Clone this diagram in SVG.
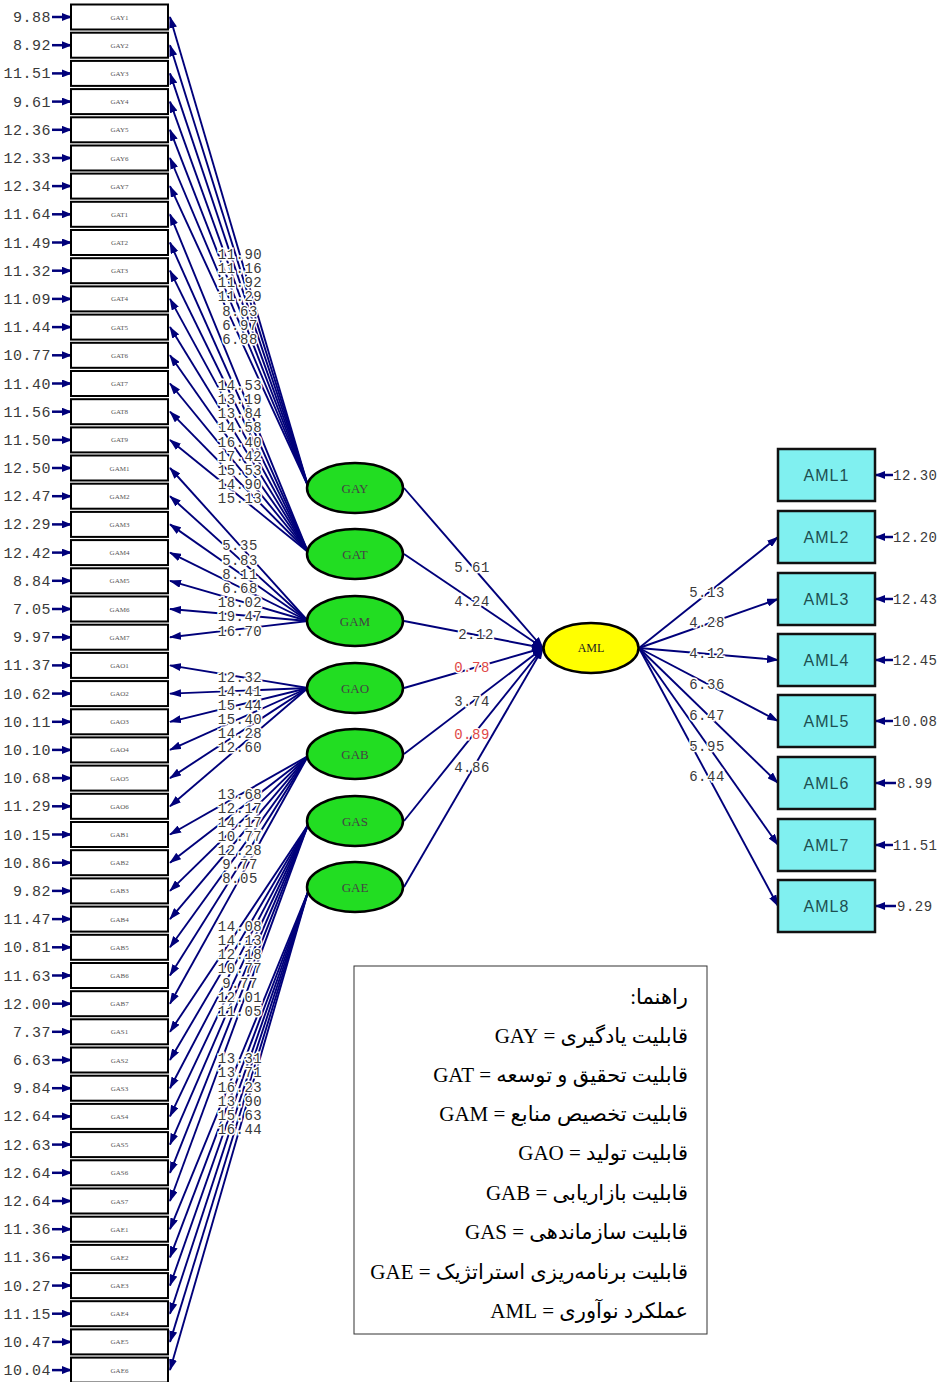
<svg xmlns="http://www.w3.org/2000/svg" width="943" height="1382" viewBox="0 0 943 1382">
<style>
.ln{stroke:#00007a;stroke-width:1.9;fill:none;marker-end:url(#ah)}
.er{stroke:#00007a;stroke-width:2.5;fill:none;marker-end:url(#ahs)}
.ind rect{fill:#fff;stroke:#000;stroke-width:2}
.ind text{font-family:"Liberation Serif",serif;font-size:7px;fill:#555;text-anchor:middle}
.num{font-family:"Liberation Mono","DejaVu Sans Mono",monospace;font-size:14px;fill:#3a3a3a;letter-spacing:0.5px}
.lab{text-anchor:middle;paint-order:stroke;stroke:#fff;stroke-width:3px}
.red{fill:#e04848}
.errl{font-size:15px;text-anchor:end}
.lat ellipse{fill:#22dd22;stroke:#000;stroke-width:2.5}
.lat text{font-family:"Liberation Serif",serif;font-size:13px;fill:#444;text-anchor:middle}
.aml rect{fill:#80f0f0;stroke:#111;stroke-width:2.5}
.aml text{font-family:"Liberation Sans",sans-serif;font-size:16px;fill:#1d4f50;text-anchor:middle;letter-spacing:1px}
.leg{font-family:"Liberation Serif","DejaVu Sans",serif;font-size:21px;fill:#000}
</style>
<defs>
<marker id="ah" markerWidth="12" markerHeight="8" refX="11" refY="4" orient="auto" markerUnits="userSpaceOnUse"><path d="M0,0 L12,4 L0,8 z" fill="#00007a"/></marker>
<marker id="ahs" markerWidth="10" markerHeight="8" refX="9" refY="4" orient="auto" markerUnits="userSpaceOnUse"><path d="M0,0 L10,4 L0,8 z" fill="#00007a"/></marker>
</defs>
<rect width="943" height="1382" fill="#fff"/>
<g id="connectors">
<path class="ln" d="M308,486 L170,17"/>
<path class="ln" d="M308,486 L170,45.2"/>
<path class="ln" d="M308,486 L170,73.4"/>
<path class="ln" d="M308,486 L170,101.6"/>
<path class="ln" d="M308,486 L170,129.8"/>
<path class="ln" d="M308,486 L170,158"/>
<path class="ln" d="M308,486 L170,186.1"/>
<path class="ln" d="M308,552 L170,214.3"/>
<path class="ln" d="M308,552 L170,242.5"/>
<path class="ln" d="M308,552 L170,270.7"/>
<path class="ln" d="M308,552 L170,298.9"/>
<path class="ln" d="M308,552 L170,327.1"/>
<path class="ln" d="M308,552 L170,355.3"/>
<path class="ln" d="M308,552 L170,383.5"/>
<path class="ln" d="M308,552 L170,411.7"/>
<path class="ln" d="M308,552 L170,439.9"/>
<path class="ln" d="M308,621 L170,468"/>
<path class="ln" d="M308,621 L170,496.2"/>
<path class="ln" d="M308,621 L170,524.4"/>
<path class="ln" d="M308,621 L170,552.6"/>
<path class="ln" d="M308,621 L170,580.8"/>
<path class="ln" d="M308,621 L170,609"/>
<path class="ln" d="M308,621 L170,637.2"/>
<path class="ln" d="M308,688 L170,665.4"/>
<path class="ln" d="M308,688 L170,693.6"/>
<path class="ln" d="M308,688 L170,721.8"/>
<path class="ln" d="M308,688 L170,749.9"/>
<path class="ln" d="M308,688 L170,778.1"/>
<path class="ln" d="M308,688 L170,806.3"/>
<path class="ln" d="M308,756 L170,834.5"/>
<path class="ln" d="M308,756 L170,862.7"/>
<path class="ln" d="M308,756 L170,890.9"/>
<path class="ln" d="M308,756 L170,919.1"/>
<path class="ln" d="M308,756 L170,947.3"/>
<path class="ln" d="M308,756 L170,975.5"/>
<path class="ln" d="M308,756 L170,1003.7"/>
<path class="ln" d="M308,825 L170,1031.8"/>
<path class="ln" d="M308,825 L170,1060"/>
<path class="ln" d="M308,825 L170,1088.2"/>
<path class="ln" d="M308,825 L170,1116.4"/>
<path class="ln" d="M308,825 L170,1144.6"/>
<path class="ln" d="M308,825 L170,1172.8"/>
<path class="ln" d="M308,825 L170,1201"/>
<path class="ln" d="M308,892 L170,1229.2"/>
<path class="ln" d="M308,892 L170,1257.4"/>
<path class="ln" d="M308,892 L170,1285.6"/>
<path class="ln" d="M308,892 L170,1313.7"/>
<path class="ln" d="M308,892 L170,1341.9"/>
<path class="ln" d="M308,892 L170,1370.1"/>
<path class="ln" d="M404,488 L543,648"/>
<path class="ln" d="M404,554 L543,648"/>
<path class="ln" d="M404,621 L543,648"/>
<path class="ln" d="M404,688 L543,648"/>
<path class="ln" d="M404,754 L543,648"/>
<path class="ln" d="M404,821 L543,648"/>
<path class="ln" d="M404,887 L543,648"/>
<path class="ln" d="M639,648 L778,537"/>
<path class="ln" d="M639,648 L778,599"/>
<path class="ln" d="M639,648 L778,660"/>
<path class="ln" d="M639,648 L778,721"/>
<path class="ln" d="M639,648 L778,783"/>
<path class="ln" d="M639,648 L778,845"/>
<path class="ln" d="M639,648 L778,906"/>
<path class="er" d="M52,17 L71,17"/>
<path class="er" d="M52,45.2 L71,45.2"/>
<path class="er" d="M52,73.4 L71,73.4"/>
<path class="er" d="M52,101.6 L71,101.6"/>
<path class="er" d="M52,129.8 L71,129.8"/>
<path class="er" d="M52,158 L71,158"/>
<path class="er" d="M52,186.1 L71,186.1"/>
<path class="er" d="M52,214.3 L71,214.3"/>
<path class="er" d="M52,242.5 L71,242.5"/>
<path class="er" d="M52,270.7 L71,270.7"/>
<path class="er" d="M52,298.9 L71,298.9"/>
<path class="er" d="M52,327.1 L71,327.1"/>
<path class="er" d="M52,355.3 L71,355.3"/>
<path class="er" d="M52,383.5 L71,383.5"/>
<path class="er" d="M52,411.7 L71,411.7"/>
<path class="er" d="M52,439.9 L71,439.9"/>
<path class="er" d="M52,468 L71,468"/>
<path class="er" d="M52,496.2 L71,496.2"/>
<path class="er" d="M52,524.4 L71,524.4"/>
<path class="er" d="M52,552.6 L71,552.6"/>
<path class="er" d="M52,580.8 L71,580.8"/>
<path class="er" d="M52,609 L71,609"/>
<path class="er" d="M52,637.2 L71,637.2"/>
<path class="er" d="M52,665.4 L71,665.4"/>
<path class="er" d="M52,693.6 L71,693.6"/>
<path class="er" d="M52,721.8 L71,721.8"/>
<path class="er" d="M52,749.9 L71,749.9"/>
<path class="er" d="M52,778.1 L71,778.1"/>
<path class="er" d="M52,806.3 L71,806.3"/>
<path class="er" d="M52,834.5 L71,834.5"/>
<path class="er" d="M52,862.7 L71,862.7"/>
<path class="er" d="M52,890.9 L71,890.9"/>
<path class="er" d="M52,919.1 L71,919.1"/>
<path class="er" d="M52,947.3 L71,947.3"/>
<path class="er" d="M52,975.5 L71,975.5"/>
<path class="er" d="M52,1003.7 L71,1003.7"/>
<path class="er" d="M52,1031.8 L71,1031.8"/>
<path class="er" d="M52,1060 L71,1060"/>
<path class="er" d="M52,1088.2 L71,1088.2"/>
<path class="er" d="M52,1116.4 L71,1116.4"/>
<path class="er" d="M52,1144.6 L71,1144.6"/>
<path class="er" d="M52,1172.8 L71,1172.8"/>
<path class="er" d="M52,1201 L71,1201"/>
<path class="er" d="M52,1229.2 L71,1229.2"/>
<path class="er" d="M52,1257.4 L71,1257.4"/>
<path class="er" d="M52,1285.6 L71,1285.6"/>
<path class="er" d="M52,1313.7 L71,1313.7"/>
<path class="er" d="M52,1341.9 L71,1341.9"/>
<path class="er" d="M52,1370.1 L71,1370.1"/>
<path class="er" d="M893,475 L876,475"/>
<path class="er" d="M893,537 L876,537"/>
<path class="er" d="M893,599 L876,599"/>
<path class="er" d="M893,660 L876,660"/>
<path class="er" d="M893,721 L876,721"/>
<path class="er" d="M896,783 L876,783"/>
<path class="er" d="M893,845 L876,845"/>
<path class="er" d="M896,906 L876,906"/>
</g>
<g id="labels" class="num">
<g class="errl">
<text x="51" y="22">9.88</text>
<text x="51" y="50.2">8.92</text>
<text x="51" y="78.4">11.51</text>
<text x="51" y="106.6">9.61</text>
<text x="51" y="134.8">12.36</text>
<text x="51" y="163">12.33</text>
<text x="51" y="191.1">12.34</text>
<text x="51" y="219.3">11.64</text>
<text x="51" y="247.5">11.49</text>
<text x="51" y="275.7">11.32</text>
<text x="51" y="303.9">11.09</text>
<text x="51" y="332.1">11.44</text>
<text x="51" y="360.3">10.77</text>
<text x="51" y="388.5">11.40</text>
<text x="51" y="416.7">11.56</text>
<text x="51" y="444.9">11.50</text>
<text x="51" y="473">12.50</text>
<text x="51" y="501.2">12.47</text>
<text x="51" y="529.4">12.29</text>
<text x="51" y="557.6">12.42</text>
<text x="51" y="585.8">8.84</text>
<text x="51" y="614">7.05</text>
<text x="51" y="642.2">9.97</text>
<text x="51" y="670.4">11.37</text>
<text x="51" y="698.6">10.62</text>
<text x="51" y="726.8">10.11</text>
<text x="51" y="754.9">10.10</text>
<text x="51" y="783.1">10.68</text>
<text x="51" y="811.3">11.29</text>
<text x="51" y="839.5">10.15</text>
<text x="51" y="867.7">10.86</text>
<text x="51" y="895.9">9.82</text>
<text x="51" y="924.1">11.47</text>
<text x="51" y="952.3">10.81</text>
<text x="51" y="980.5">11.63</text>
<text x="51" y="1008.7">12.00</text>
<text x="51" y="1036.8">7.37</text>
<text x="51" y="1065">6.63</text>
<text x="51" y="1093.2">9.84</text>
<text x="51" y="1121.4">12.64</text>
<text x="51" y="1149.6">12.63</text>
<text x="51" y="1177.8">12.64</text>
<text x="51" y="1206">12.64</text>
<text x="51" y="1234.2">11.36</text>
<text x="51" y="1262.4">11.36</text>
<text x="51" y="1290.6">10.27</text>
<text x="51" y="1318.7">11.15</text>
<text x="51" y="1346.9">10.47</text>
<text x="51" y="1375.1">10.04</text>
</g>
<g class="lab">
<text x="240" y="259">11.90</text>
<text x="240" y="273">11.16</text>
<text x="240" y="287">11.92</text>
<text x="240" y="301">11.29</text>
<text x="240" y="316">8.63</text>
<text x="240" y="330">6.97</text>
<text x="240" y="344">6.88</text>
<text x="240" y="390">14.53</text>
<text x="240" y="404">13.19</text>
<text x="240" y="418">13.84</text>
<text x="240" y="432">14.58</text>
<text x="240" y="447">16.40</text>
<text x="240" y="461">17.42</text>
<text x="240" y="475">15.53</text>
<text x="240" y="489">14.90</text>
<text x="240" y="503">15.13</text>
<text x="240" y="550">5.35</text>
<text x="240" y="565">5.83</text>
<text x="240" y="579">8.11</text>
<text x="240" y="593">6.68</text>
<text x="240" y="607">18.02</text>
<text x="240" y="621">19.47</text>
<text x="240" y="636">16.70</text>
<text x="240" y="682">12.32</text>
<text x="240" y="696">14.41</text>
<text x="240" y="710">15.44</text>
<text x="240" y="724">15.40</text>
<text x="240" y="738">14.28</text>
<text x="240" y="752">12.60</text>
<text x="240" y="799">13.68</text>
<text x="240" y="813">12.17</text>
<text x="240" y="827">14.17</text>
<text x="240" y="841">10.77</text>
<text x="240" y="855">12.28</text>
<text x="240" y="869">9.77</text>
<text x="240" y="883">8.05</text>
<text x="240" y="931">14.08</text>
<text x="240" y="945">14.13</text>
<text x="240" y="959">12.18</text>
<text x="240" y="973">10.77</text>
<text x="240" y="988">9.77</text>
<text x="240" y="1002">12.01</text>
<text x="240" y="1016">11.05</text>
<text x="240" y="1063">13.31</text>
<text x="240" y="1077">13.71</text>
<text x="240" y="1092">16.23</text>
<text x="240" y="1106">13.90</text>
<text x="240" y="1120">15.63</text>
<text x="240" y="1134">16.44</text>
<text x="472" y="572">5.61</text>
<text x="472" y="606">4.24</text>
<text x="476" y="639">2.12</text>
<text x="472" y="672" class="red">0.78</text>
<text x="472" y="706">3.74</text>
<text x="472" y="739" class="red">0.89</text>
<text x="472" y="772">4.86</text>
<text x="707" y="597">5.13</text>
<text x="707" y="627">4.28</text>
<text x="707" y="658">4.12</text>
<text x="707" y="689">6.36</text>
<text x="707" y="720">6.47</text>
<text x="707" y="751">5.95</text>
<text x="707" y="781">6.44</text>
</g>
<text x="893" y="480">12.30</text>
<text x="893" y="542">12.20</text>
<text x="893" y="604">12.43</text>
<text x="893" y="665">12.45</text>
<text x="893" y="726">10.08</text>
<text x="897" y="788">8.99</text>
<text x="893" y="850">11.51</text>
<text x="897" y="911">9.29</text>
</g>
<g class="ind">
<g id="GAY1"><rect x="71" y="4.5" width="97" height="25"/><text x="119.5" y="19.5">GAY1</text></g>
<g id="GAY2"><rect x="71" y="32.7" width="97" height="25"/><text x="119.5" y="47.7">GAY2</text></g>
<g id="GAY3"><rect x="71" y="60.9" width="97" height="25"/><text x="119.5" y="75.9">GAY3</text></g>
<g id="GAY4"><rect x="71" y="89.1" width="97" height="25"/><text x="119.5" y="104.1">GAY4</text></g>
<g id="GAY5"><rect x="71" y="117.3" width="97" height="25"/><text x="119.5" y="132.3">GAY5</text></g>
<g id="GAY6"><rect x="71" y="145.5" width="97" height="25"/><text x="119.5" y="160.5">GAY6</text></g>
<g id="GAY7"><rect x="71" y="173.6" width="97" height="25"/><text x="119.5" y="188.6">GAY7</text></g>
<g id="GAT1"><rect x="71" y="201.8" width="97" height="25"/><text x="119.5" y="216.8">GAT1</text></g>
<g id="GAT2"><rect x="71" y="230" width="97" height="25"/><text x="119.5" y="245">GAT2</text></g>
<g id="GAT3"><rect x="71" y="258.2" width="97" height="25"/><text x="119.5" y="273.2">GAT3</text></g>
<g id="GAT4"><rect x="71" y="286.4" width="97" height="25"/><text x="119.5" y="301.4">GAT4</text></g>
<g id="GAT5"><rect x="71" y="314.6" width="97" height="25"/><text x="119.5" y="329.6">GAT5</text></g>
<g id="GAT6"><rect x="71" y="342.8" width="97" height="25"/><text x="119.5" y="357.8">GAT6</text></g>
<g id="GAT7"><rect x="71" y="371" width="97" height="25"/><text x="119.5" y="386">GAT7</text></g>
<g id="GAT8"><rect x="71" y="399.2" width="97" height="25"/><text x="119.5" y="414.2">GAT8</text></g>
<g id="GAT9"><rect x="71" y="427.4" width="97" height="25"/><text x="119.5" y="442.4">GAT9</text></g>
<g id="GAM1"><rect x="71" y="455.5" width="97" height="25"/><text x="119.5" y="470.5">GAM1</text></g>
<g id="GAM2"><rect x="71" y="483.7" width="97" height="25"/><text x="119.5" y="498.7">GAM2</text></g>
<g id="GAM3"><rect x="71" y="511.9" width="97" height="25"/><text x="119.5" y="526.9">GAM3</text></g>
<g id="GAM4"><rect x="71" y="540.1" width="97" height="25"/><text x="119.5" y="555.1">GAM4</text></g>
<g id="GAM5"><rect x="71" y="568.3" width="97" height="25"/><text x="119.5" y="583.3">GAM5</text></g>
<g id="GAM6"><rect x="71" y="596.5" width="97" height="25"/><text x="119.5" y="611.5">GAM6</text></g>
<g id="GAM7"><rect x="71" y="624.7" width="97" height="25"/><text x="119.5" y="639.7">GAM7</text></g>
<g id="GAO1"><rect x="71" y="652.9" width="97" height="25"/><text x="119.5" y="667.9">GAO1</text></g>
<g id="GAO2"><rect x="71" y="681.1" width="97" height="25"/><text x="119.5" y="696.1">GAO2</text></g>
<g id="GAO3"><rect x="71" y="709.3" width="97" height="25"/><text x="119.5" y="724.3">GAO3</text></g>
<g id="GAO4"><rect x="71" y="737.4" width="97" height="25"/><text x="119.5" y="752.4">GAO4</text></g>
<g id="GAO5"><rect x="71" y="765.6" width="97" height="25"/><text x="119.5" y="780.6">GAO5</text></g>
<g id="GAO6"><rect x="71" y="793.8" width="97" height="25"/><text x="119.5" y="808.8">GAO6</text></g>
<g id="GAB1"><rect x="71" y="822" width="97" height="25"/><text x="119.5" y="837">GAB1</text></g>
<g id="GAB2"><rect x="71" y="850.2" width="97" height="25"/><text x="119.5" y="865.2">GAB2</text></g>
<g id="GAB3"><rect x="71" y="878.4" width="97" height="25"/><text x="119.5" y="893.4">GAB3</text></g>
<g id="GAB4"><rect x="71" y="906.6" width="97" height="25"/><text x="119.5" y="921.6">GAB4</text></g>
<g id="GAB5"><rect x="71" y="934.8" width="97" height="25"/><text x="119.5" y="949.8">GAB5</text></g>
<g id="GAB6"><rect x="71" y="963" width="97" height="25"/><text x="119.5" y="978">GAB6</text></g>
<g id="GAB7"><rect x="71" y="991.2" width="97" height="25"/><text x="119.5" y="1006.2">GAB7</text></g>
<g id="GAS1"><rect x="71" y="1019.3" width="97" height="25"/><text x="119.5" y="1034.3">GAS1</text></g>
<g id="GAS2"><rect x="71" y="1047.5" width="97" height="25"/><text x="119.5" y="1062.5">GAS2</text></g>
<g id="GAS3"><rect x="71" y="1075.7" width="97" height="25"/><text x="119.5" y="1090.7">GAS3</text></g>
<g id="GAS4"><rect x="71" y="1103.9" width="97" height="25"/><text x="119.5" y="1118.9">GAS4</text></g>
<g id="GAS5"><rect x="71" y="1132.1" width="97" height="25"/><text x="119.5" y="1147.1">GAS5</text></g>
<g id="GAS6"><rect x="71" y="1160.3" width="97" height="25"/><text x="119.5" y="1175.3">GAS6</text></g>
<g id="GAS7"><rect x="71" y="1188.5" width="97" height="25"/><text x="119.5" y="1203.5">GAS7</text></g>
<g id="GAE1"><rect x="71" y="1216.7" width="97" height="25"/><text x="119.5" y="1231.7">GAE1</text></g>
<g id="GAE2"><rect x="71" y="1244.9" width="97" height="25"/><text x="119.5" y="1259.9">GAE2</text></g>
<g id="GAE3"><rect x="71" y="1273.1" width="97" height="25"/><text x="119.5" y="1288.1">GAE3</text></g>
<g id="GAE4"><rect x="71" y="1301.2" width="97" height="25"/><text x="119.5" y="1316.2">GAE4</text></g>
<g id="GAE5"><rect x="71" y="1329.4" width="97" height="25"/><text x="119.5" y="1344.4">GAE5</text></g>
<g id="GAE6"><rect x="71" y="1357.6" width="97" height="25"/><text x="119.5" y="1372.6">GAE6</text></g>
</g>
<g class="lat">
<g id="GAY"><ellipse cx="355" cy="488" rx="48" ry="25"/><text x="355" y="492.5">GAY</text></g>
<g id="GAT"><ellipse cx="355" cy="554" rx="48" ry="25"/><text x="355" y="558.5">GAT</text></g>
<g id="GAM"><ellipse cx="355" cy="621" rx="48" ry="25"/><text x="355" y="625.5">GAM</text></g>
<g id="GAO"><ellipse cx="355" cy="688" rx="48" ry="25"/><text x="355" y="692.5">GAO</text></g>
<g id="GAB"><ellipse cx="355" cy="754" rx="48" ry="25"/><text x="355" y="758.5">GAB</text></g>
<g id="GAS"><ellipse cx="355" cy="821" rx="48" ry="25"/><text x="355" y="825.5">GAS</text></g>
<g id="GAE"><ellipse cx="355" cy="887" rx="48" ry="25"/><text x="355" y="891.5">GAE</text></g>
</g>
<g id="AML"><ellipse cx="591" cy="648" rx="47.5" ry="25" fill="#ffff00" stroke="#000" stroke-width="2.5"/><text x="591" y="652" font-family="Liberation Serif, serif" font-size="12" fill="#222" text-anchor="middle">AML</text></g>
<g class="aml">
<g id="AML1"><rect x="778" y="449" width="97" height="52"/><text x="826.5" y="481">AML1</text></g>
<g id="AML2"><rect x="778" y="511" width="97" height="52"/><text x="826.5" y="543">AML2</text></g>
<g id="AML3"><rect x="778" y="573" width="97" height="52"/><text x="826.5" y="605">AML3</text></g>
<g id="AML4"><rect x="778" y="634" width="97" height="52"/><text x="826.5" y="666">AML4</text></g>
<g id="AML5"><rect x="778" y="695" width="97" height="52"/><text x="826.5" y="727">AML5</text></g>
<g id="AML6"><rect x="778" y="757" width="97" height="52"/><text x="826.5" y="789">AML6</text></g>
<g id="AML7"><rect x="778" y="819" width="97" height="52"/><text x="826.5" y="851">AML7</text></g>
<g id="AML8"><rect x="778" y="880" width="97" height="52"/><text x="826.5" y="912">AML8</text></g>
</g>
<g id="legend">
<rect x="354" y="966" width="353" height="368" fill="#fff" stroke="#333" stroke-width="1"/>
<g class="leg" direction="rtl" text-anchor="start">
<text x="688" y="1004">راهنما:</text>
<text x="688" y="1043">قابلیت یادگیری = GAY</text>
<text x="688" y="1082">قابلیت تحقیق و توسعه = GAT</text>
<text x="688" y="1121">قابلیت تخصیص منابع = GAM</text>
<text x="688" y="1160">قابلیت تولید = GAO</text>
<text x="688" y="1200">قابلیت بازاریابی = GAB</text>
<text x="688" y="1239">قابلیت سازماندهی = GAS</text>
<text x="688" y="1279">قابلیت برنامه‌ریزی استراتژیک = GAE</text>
<text x="688" y="1318">عملکرد نوآوری = AML</text>
</g>
</g>
</svg>
